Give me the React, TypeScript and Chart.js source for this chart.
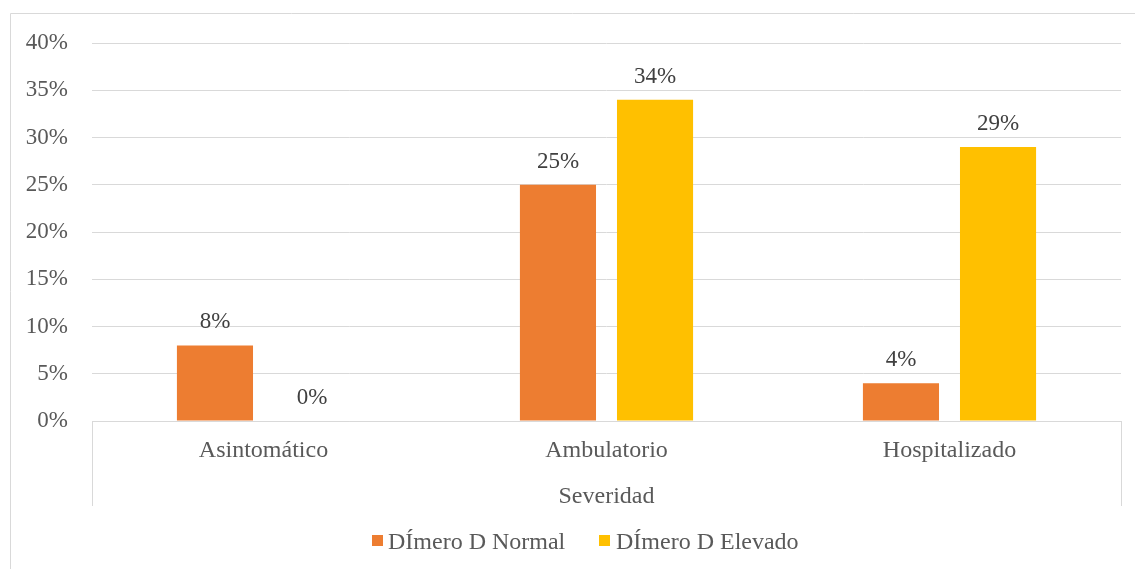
import React, { useEffect, useRef } from "react";
import { Chart, registerables } from "chart.js";

Chart.register(...registerables);

const categories = ["Asintomático", "Ambulatorio", "Hospitalizado"];
const normalValues = [8, 25, 4];
const elevadoValues = [0, 34, 29];
const seriesNames = ["DÍmero D Normal", "DÍmero D Elevado"];
const seriesColors = ["#ED7D31", "#FFC000"];
const axisTitle = "Severidad";

const FONT = "'Liberation Serif', 'Times New Roman', serif";
const TEXT = "#595959";
const GRID = "#D9D9D9";

const decorPlugin = {
  id: "decor",
  afterDraw(chart: any) {
    const { ctx, chartArea } = chart;
    ctx.save();
    // outer frame (top and left visible)
    ctx.strokeStyle = GRID;
    ctx.lineWidth = 1;
    ctx.beginPath();
    ctx.moveTo(10.5, 569);
    ctx.lineTo(10.5, 13.5);
    ctx.lineTo(1135, 13.5);
    ctx.stroke();
    // category frame vertical lines
    ctx.beginPath();
    ctx.moveTo(Math.round(chartArea.left) + 0.5, chartArea.bottom);
    ctx.lineTo(Math.round(chartArea.left) + 0.5, 506);
    ctx.moveTo(Math.round(chartArea.right) + 0.5, chartArea.bottom);
    ctx.lineTo(Math.round(chartArea.right) + 0.5, 506);
    ctx.stroke();
    // data labels
    ctx.font = `23px ${FONT}`;
    ctx.fillStyle = "#404040";
    ctx.textAlign = "center";
    ctx.textBaseline = "alphabetic";
    chart.data.datasets.forEach((ds: any, di: number) => {
      const meta = chart.getDatasetMeta(di);
      meta.data.forEach((el: any, i: number) => {
        ctx.fillText(ds.data[i] + "%", el.x, el.y - 17);
      });
    });
    // legend
    ctx.font = `24px ${FONT}`;
    ctx.textAlign = "left";
    const items = [
      { x: 372, tx: 388 },
      { x: 599, tx: 616 },
    ];
    seriesNames.forEach((name, i) => {
      ctx.fillStyle = seriesColors[i];
      ctx.fillRect(items[i].x, 535, 11, 11);
      ctx.fillStyle = TEXT;
      ctx.fillText(name, items[i].tx, 549);
    });
    ctx.restore();
  },
};

export default function App() {
  const ref = useRef<HTMLCanvasElement>(null);
  useEffect(() => {
    if (!ref.current) return;
    const chart = new Chart(ref.current, {
      type: "bar",
      data: {
        labels: categories,
        datasets: [
          {
            label: seriesNames[0],
            data: normalValues,
            backgroundColor: seriesColors[0],
            categoryPercentage: 0.566,
            barPercentage: 0.784,
          },
          {
            label: seriesNames[1],
            data: elevadoValues,
            backgroundColor: seriesColors[1],
            categoryPercentage: 0.566,
            barPercentage: 0.784,
          },
        ],
      },
      options: {
        animation: false,
        responsive: false,
        maintainAspectRatio: false,
        layout: { padding: { left: 0, right: 14, top: 43, bottom: 58 } },
        plugins: {
          legend: { display: false },
          tooltip: { enabled: false },
        },
        scales: {
          x: {
            grid: { display: false, drawTicks: false },
            border: { display: true, color: GRID, width: 1 },
            ticks: {
              color: TEXT,
              font: { family: FONT, size: 24 },
              padding: 15,
            },
            title: {
              display: true,
              text: axisTitle,
              color: TEXT,
              font: { family: FONT, size: 24 },
              padding: { top: 13, bottom: 0 },
            },
            afterFit(scale: any) {
              scale.height = 90;
            },
          },
          y: {
            min: 0,
            max: 40,
            ticks: {
              stepSize: 5,
              color: TEXT,
              font: { family: FONT, size: 23 },
              padding: 24,
              callback: (v: any) => v + "%",
            },
            grid: { color: GRID, lineWidth: 1, drawTicks: false },
            border: { display: false },
            afterFit(scale: any) {
              scale.width = 92;
            },
          },
        },
      },
      plugins: [decorPlugin],
    });
    return () => chart.destroy();
  }, []);
  return (
    <div style={{ position: "fixed", left: 0, top: 0, width: 1135, height: 569, background: "#fff" }}>
      <canvas ref={ref} width={1135} height={569} style={{ width: 1135, height: 569 }} />
    </div>
  );
}
